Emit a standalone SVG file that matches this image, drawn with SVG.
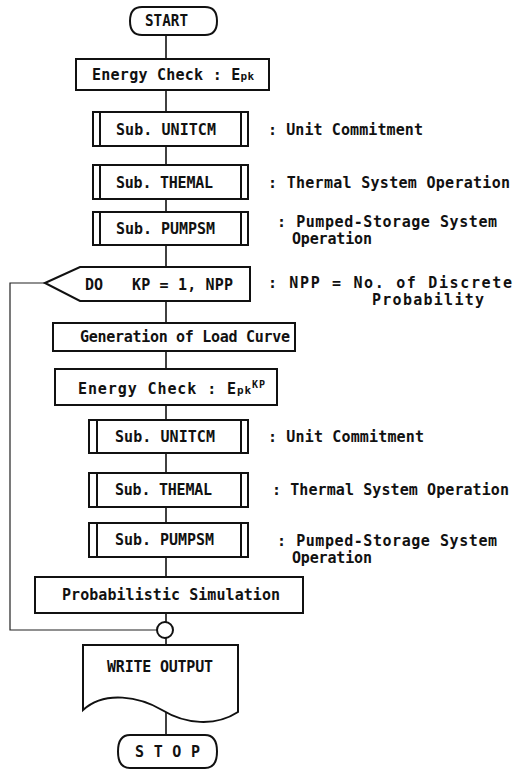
<svg xmlns="http://www.w3.org/2000/svg" width="517" height="769" viewBox="0 0 517 769">
  <style>
    .shape { fill: #ffffff; stroke: #111111; stroke-width: 2; }
    .bar { fill: none; stroke: #111111; stroke-width: 2; }
    .wire { fill: none; stroke: #111111; stroke-width: 1.6; }
    .loop { fill: none; stroke: #222222; stroke-width: 1.2; }
    text { font-family: "DejaVu Sans Mono", "Liberation Mono", monospace; font-weight: bold; font-size: 15px; fill: #111111; }
    .small { font-size: 11px; }
    .sup { font-size: 10px; }
  </style>
  <rect width="517" height="769" fill="#ffffff"/>

  <!-- connectors -->
  <g id="connectors">
    <line class="wire" x1="166" y1="35" x2="166" y2="59"/>
    <line class="wire" x1="166" y1="90" x2="166" y2="112"/>
    <line class="wire" x1="166" y1="146" x2="166" y2="165"/>
    <line class="wire" x1="166" y1="199" x2="166" y2="212"/>
    <line class="wire" x1="166" y1="245" x2="166" y2="267"/>
    <line class="wire" x1="166" y1="301" x2="166" y2="323"/>
    <line class="wire" x1="166" y1="351" x2="166" y2="369"/>
    <line class="wire" x1="166" y1="405" x2="166" y2="420"/>
    <line class="wire" x1="166" y1="453" x2="166" y2="473"/>
    <line class="wire" x1="166" y1="507" x2="166" y2="523"/>
    <line class="wire" x1="166" y1="557" x2="166" y2="577"/>
    <line class="wire" x1="166" y1="613" x2="166" y2="622"/>
    <line class="wire" x1="166" y1="638" x2="166" y2="645"/>
    <line class="wire" x1="166" y1="712" x2="166" y2="735"/>
    <!-- loop return from the DO statement -->
    <polyline class="loop" points="45,283 10,283 10,630 157,630"/>
  </g>

  <g id="start">
    <path class="shape" d="M142,7 H205 Q217,7 217,21 Q217,35 205,35 H142 Q130,35 130,21 Q130,7 142,7 Z"/>
    <text x="145" y="26" textLength="43" lengthAdjust="spacingAndGlyphs">START</text>
  </g>

  <g id="energy-check-1">
    <rect class="shape" x="76" y="59" width="193" height="31"/>
    <text x="92" y="80" textLength="162" lengthAdjust="spacing">Energy Check : E<tspan class="small">pk</tspan></text>
  </g>

  <g id="unitcm-1">
    <rect class="shape" x="93" y="112" width="155" height="34"/>
    <line class="bar" x1="100" y1="112" x2="100" y2="146"/>
    <line class="bar" x1="241" y1="112" x2="241" y2="146"/>
    <text x="116" y="135" textLength="100" lengthAdjust="spacing">Sub. UNITCM</text>
    <text x="268" y="135" textLength="155" lengthAdjust="spacing">: Unit Commitment</text>
  </g>

  <g id="themal-1">
    <rect class="shape" x="93" y="165" width="155" height="34"/>
    <line class="bar" x1="100" y1="165" x2="100" y2="199"/>
    <line class="bar" x1="241" y1="165" x2="241" y2="199"/>
    <text x="116" y="188" textLength="97" lengthAdjust="spacing">Sub. THEMAL</text>
    <text x="268" y="188" textLength="242" lengthAdjust="spacing">: Thermal System Operation</text>
  </g>

  <g id="pumpsm-1">
    <rect class="shape" x="93" y="212" width="155" height="33"/>
    <line class="bar" x1="100" y1="212" x2="100" y2="245"/>
    <line class="bar" x1="241" y1="212" x2="241" y2="245"/>
    <text x="116" y="234" textLength="99" lengthAdjust="spacing">Sub. PUMPSM</text>
    <text x="277" y="227" textLength="220" lengthAdjust="spacing">: Pumped-Storage System</text>
    <text x="292" y="244" textLength="80" lengthAdjust="spacing">Operation</text>
  </g>

  <g id="do-loop">
    <path class="shape" d="M45,283 L80,267 H250 V301 H80 Z"/>
    <text x="85" y="290" textLength="18" lengthAdjust="spacing">DO</text>
    <text x="132" y="290" textLength="101" lengthAdjust="spacing">KP = 1, NPP</text>
    <text x="268" y="288" textLength="244" lengthAdjust="spacing">: NPP = No. of Discrete</text>
    <text x="372" y="305" textLength="112" lengthAdjust="spacing">Probability</text>
  </g>

  <g id="load-curve">
    <rect class="shape" x="53" y="323" width="242" height="28"/>
    <text x="80" y="342" textLength="210" lengthAdjust="spacing">Generation of Load Curve</text>
  </g>

  <g id="energy-check-2">
    <rect class="shape" x="55" y="369" width="222" height="36"/>
    <text x="78" y="394" textLength="187" lengthAdjust="spacing">Energy Check : E<tspan class="small">pk</tspan><tspan class="sup" dy="-6">KP</tspan></text>
  </g>

  <g id="unitcm-2">
    <rect class="shape" x="89" y="420" width="159" height="33"/>
    <line class="bar" x1="97" y1="420" x2="97" y2="453"/>
    <line class="bar" x1="241" y1="420" x2="241" y2="453"/>
    <text x="115" y="442" textLength="100" lengthAdjust="spacing">Sub. UNITCM</text>
    <text x="268" y="442" textLength="156" lengthAdjust="spacing">: Unit Commitment</text>
  </g>

  <g id="themal-2">
    <rect class="shape" x="89" y="473" width="159" height="34"/>
    <line class="bar" x1="97" y1="473" x2="97" y2="507"/>
    <line class="bar" x1="241" y1="473" x2="241" y2="507"/>
    <text x="115" y="495" textLength="97" lengthAdjust="spacing">Sub. THEMAL</text>
    <text x="272" y="495" textLength="237" lengthAdjust="spacing">: Thermal System Operation</text>
  </g>

  <g id="pumpsm-2">
    <rect class="shape" x="89" y="523" width="159" height="34"/>
    <line class="bar" x1="97" y1="523" x2="97" y2="557"/>
    <line class="bar" x1="241" y1="523" x2="241" y2="557"/>
    <text x="115" y="545" textLength="99" lengthAdjust="spacing">Sub. PUMPSM</text>
    <text x="277" y="546" textLength="220" lengthAdjust="spacing">: Pumped-Storage System</text>
    <text x="292" y="563" textLength="80" lengthAdjust="spacing">Operation</text>
  </g>

  <g id="probabilistic-simulation">
    <rect class="shape" x="35" y="577" width="268" height="36"/>
    <text x="62" y="600" textLength="218" lengthAdjust="spacing">Probabilistic Simulation</text>
  </g>

  <g id="junction">
    <circle class="shape" cx="165" cy="630" r="8"/>
  </g>

  <g id="write-output">
    <path class="shape" d="M83,645 H238 V712 C215,727 185,724 162,710 C140,697 105,690 83,710 Z"/>
    <text x="107" y="672" textLength="106" lengthAdjust="spacing">WRITE OUTPUT</text>
  </g>

  <g id="stop">
    <path class="shape" d="M130,735 H205 Q217,735 217,751.5 Q217,768 205,768 H130 Q118,768 118,751.5 Q118,735 130,735 Z"/>
    <text x="135" y="757" textLength="65" lengthAdjust="spacing">S T O P</text>
  </g>
</svg>
